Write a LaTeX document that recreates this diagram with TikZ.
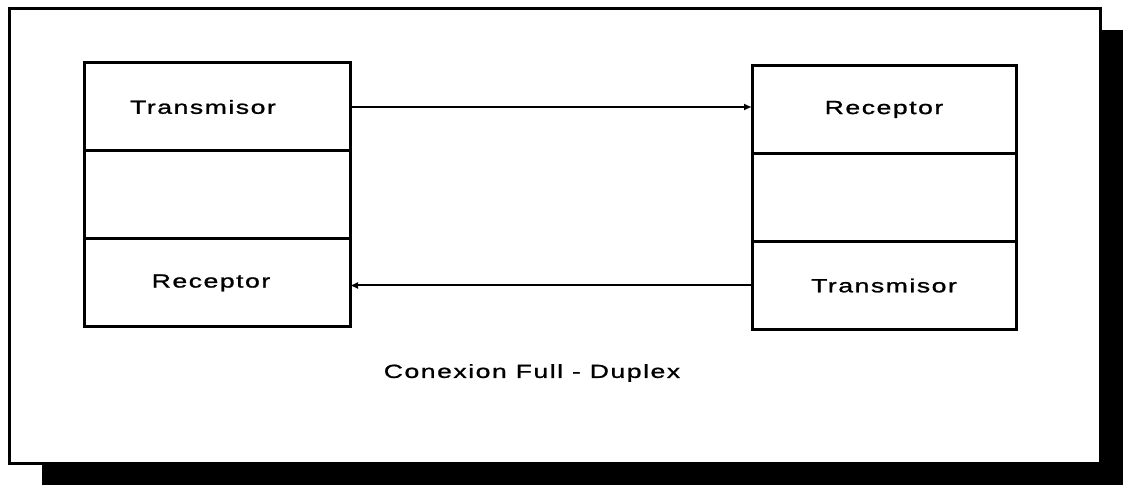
\documentclass[tikz,border=0pt]{standalone}
\usepackage{fontspec}
\newfontfamily\boxfont[FakeStretch=1.4,LetterSpace=8,FakeBold=1.2]{Liberation Sans}
\usetikzlibrary{positioning,arrows.meta}

\begin{document}
\begin{tikzpicture}[x=0.5pt,y=-0.5pt]
  \tikzstyle{layer}=[draw,line width=1.5pt,minimum width=133pt,minimum height=44pt,inner sep=0pt,outer sep=0pt,font=\boxfont\fontsize{9.5}{11}\selectfont]
  \tikzstyle{link}=[line width=1pt,-{Latex[length=4pt,width=3.5pt]}]
  \tikzstyle{caption}=[font=\boxfont\fontsize{9.5}{11}\selectfont]

  \useasboundingbox (0,0) rectangle (1123,485);
  \fill (42,30) rectangle (1123,485);
  \draw[fill=white,line width=1.5pt] (9,9) rectangle (1100,464);

  \node[layer] (tx1) at (217,107) {Transmisor\hspace*{14pt}};
  \node[layer,below=0pt of tx1] (mid1) {};
  \node[layer,below=0pt of mid1] (rx1) {\raisebox{-3pt}{Receptor}\hspace*{6pt}};

  \node[layer,minimum width=132pt] (rx2) at (884,109.5) {Receptor};
  \node[layer,minimum width=132pt,below=0pt of rx2] (mid2) {};
  \node[layer,minimum width=132pt,below=0pt of mid2] (tx2) {Transmisor};

  \draw[link] (tx1.east) -- (tx1.east -| rx2.west);
  \draw[link] (tx2.west) -- (tx2.west -| rx1.east);

  \node[caption] (title) at (532,373) {Conexion Full - Duplex};
\end{tikzpicture}
\end{document}
